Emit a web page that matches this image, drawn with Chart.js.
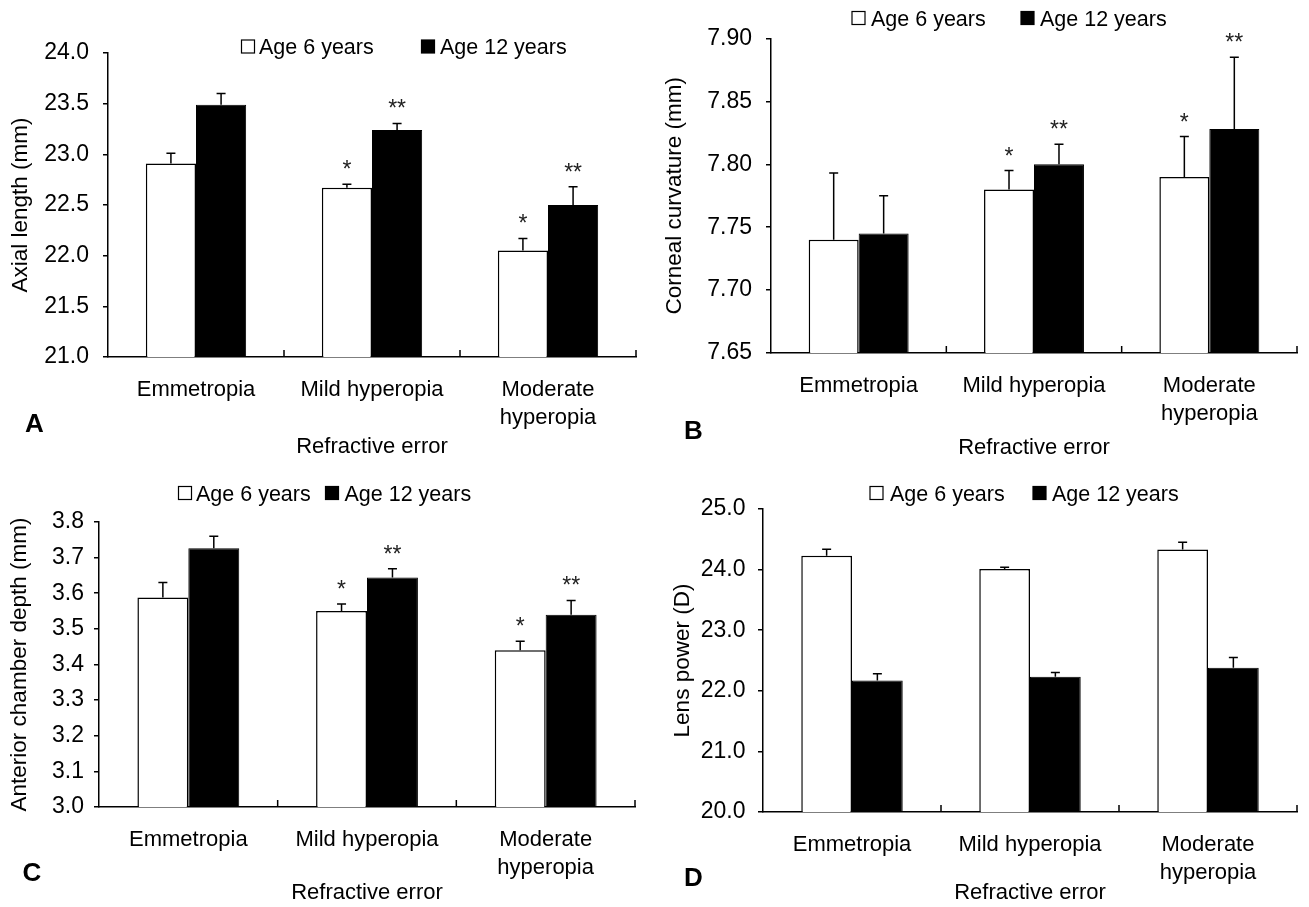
<!DOCTYPE html>
<html>
<head>
<meta charset="utf-8">
<script src="https://cdn.jsdelivr.net/npm/chart.js"></script>
<style>
body { margin: 0; background: #fff; width: 1309px; height: 907px; overflow: hidden; position: relative; }
canvas { position: absolute; }
</style>
</head>
<body>
<canvas id="cA" width="650" height="460" style="left:0px;top:0px"></canvas>
<canvas id="cB" width="659" height="460" style="left:650px;top:0px"></canvas>
<canvas id="cC" width="650" height="447" style="left:0px;top:460px"></canvas>
<canvas id="cD" width="659" height="447" style="left:650px;top:460px"></canvas>
<script>
var categories = ['Emmetropia', 'Mild hyperopia', ['Moderate', 'hyperopia']];
var seriesLabels = ['Age 6 years', 'Age 12 years'];

// A - axial length
var axialAge6 = [22.91, 22.67, 22.05];
var axialAge12 = [23.49, 23.24, 22.50];
var axialErr6 = [0.10, 0.035, 0.12];
var axialErr12 = [0.11, 0.065, 0.18];
var axialSig6 = ['', '*', '*'];
var axialSig12 = ['', '**', '**'];
var axialTicks = [21.0, 21.5, 22.0, 22.5, 23.0, 23.5, 24.0];

// B - corneal curvature
var cornealAge6 = [7.740, 7.780, 7.790];
var cornealAge12 = [7.745, 7.800, 7.828];
var cornealErr6 = [0.053, 0.015, 0.032];
var cornealErr12 = [0.030, 0.016, 0.057];
var cornealSig6 = ['', '*', '*'];
var cornealSig12 = ['', '**', '**'];
var cornealTicks = [7.65, 7.70, 7.75, 7.80, 7.85, 7.90];

// C - anterior chamber depth
var acdAge6 = [3.588, 3.550, 3.440];
var acdAge12 = [3.726, 3.644, 3.540];
var acdErr6 = [0.042, 0.020, 0.025];
var acdErr12 = [0.034, 0.025, 0.040];
var acdSig6 = ['', '*', '*'];
var acdSig12 = ['', '**', '**'];
var acdTicks = [3.0, 3.1, 3.2, 3.3, 3.4, 3.5, 3.6, 3.7, 3.8];

// D - lens power
var lensAge6 = [24.23, 24.01, 24.33];
var lensAge12 = [22.17, 22.23, 22.38];
var lensErr6 = [0.105, 0.027, 0.12];
var lensErr12 = [0.11, 0.07, 0.17];
var lensSig6 = ['', '', ''];
var lensSig12 = ['', '', ''];
var lensTicks = [20.0, 21.0, 22.0, 23.0, 24.0, 25.0];

var FONT = "'Liberation Sans', Arial, sans-serif";

var panels = [
	{ id: 'cA', ox: 0, oy: 0, w: 650, h: 460, area: [108, 53, 636, 357],
	  v6: axialAge6, v12: axialAge12, e6: axialErr6, e12: axialErr12, s6: axialSig6, s12: axialSig12,
	  ticks: axialTicks, dec: 1, yTitle: 'Axial length (mm)', titlePad: 7.5, tickPad: 14, xTitlePad: 2,
	  legend: [241.5, 259, 421.5, 440, 46.5], letter: ['A', 25, 423] },
	{ id: 'cB', ox: 650, oy: 0, w: 659, h: 460, area: [771, 38.5, 1297, 353],
	  v6: cornealAge6, v12: cornealAge12, e6: cornealErr6, e12: cornealErr12, s6: cornealSig6, s12: cornealSig12,
	  ticks: cornealTicks, dec: 2, yTitle: 'Corneal curvature (mm)', titlePad: 11.5, tickPad: 14, xTitlePad: 1,
	  legend: [852, 871, 1021, 1040, 18], letter: ['B', 684, 430] },
	{ id: 'cC', ox: 0, oy: 460, w: 650, h: 447, area: [99, 522, 635, 807],
	  v6: acdAge6, v12: acdAge12, e6: acdErr6, e12: acdErr12, s6: acdSig6, s12: acdSig12,
	  ticks: acdTicks, dec: 1, yTitle: 'Anterior chamber depth (mm)', titlePad: 6.5, tickPad: 10, xTitlePad: 3,
	  legend: [178.5, 196, 325.5, 344.5, 493], letter: ['C', 22.5, 872] },
	{ id: 'cD', ox: 650, oy: 460, w: 659, h: 447, area: [763, 509, 1297, 812],
	  v6: lensAge6, v12: lensAge12, e6: lensErr6, e12: lensErr12, s6: lensSig6, s12: lensSig12,
	  ticks: lensTicks, dec: 1, yTitle: 'Lens power (D)', titlePad: 19, tickPad: 12.5, xTitlePad: 3,
	  legend: [870, 890, 1033, 1052, 493], letter: ['D', 684, 877] }
];

function decor(p) {
	return {
		id: 'decor',
		afterDatasetsDraw: function(chart) {
			var ctx = chart.ctx, y = chart.scales.y, x = chart.scales.x, ca = chart.chartArea;
			ctx.save();
			ctx.strokeStyle = '#000';
			ctx.lineWidth = 1.5;
			// tick marks inside the x axis, between categories
			ctx.beginPath();
			for (var i = 0; i < categories.length; i++) {
				var bx = i < categories.length - 1 ? (x.getPixelForValue(i) + x.getPixelForValue(i + 1)) / 2 : ca.right;
				ctx.moveTo(bx, ca.bottom);
				ctx.lineTo(bx, ca.bottom - 7);
			}
			ctx.stroke();
			var errs = [p.e6, p.e12], sigs = [p.s6, p.s12];
			for (var d = 0; d < 2; d++) {
				var meta = chart.getDatasetMeta(d);
				var vals = chart.data.datasets[d].data;
				meta.data.forEach(function(bar, k) {
					var top = y.getPixelForValue(vals[k] + errs[d][k]);
					var base = y.getPixelForValue(vals[k]);
					ctx.beginPath();
					ctx.moveTo(bar.x, base);
					ctx.lineTo(bar.x, top);
					ctx.moveTo(bar.x - 4.5, top);
					ctx.lineTo(bar.x + 4.5, top);
					ctx.stroke();
					if (sigs[d][k]) {
						ctx.fillStyle = '#222';
						ctx.font = '23px ' + FONT;
						ctx.textAlign = 'center';
						ctx.textBaseline = 'alphabetic';
						ctx.fillText(sigs[d][k], bar.x, top - 7);
					}
				});
			}
			ctx.restore();
		},
		afterDraw: function(chart) {
			var ctx = chart.ctx, L = p.legend;
			ctx.save();
			ctx.font = '21.5px ' + FONT;
			ctx.textAlign = 'left';
			ctx.textBaseline = 'alphabetic';
			for (var d = 0; d < 2; d++) {
				var ds = chart.data.datasets[d];
				var sx = L[d * 2] - p.ox, tx = L[d * 2 + 1] - p.ox, yc = L[4] - p.oy;
				ctx.fillStyle = ds.backgroundColor;
				ctx.fillRect(sx, yc - 6.5, 13, 13);
				ctx.strokeStyle = '#000';
				ctx.lineWidth = 1.2;
				ctx.strokeRect(sx, yc - 6.5, 13, 13);
				ctx.fillStyle = '#000';
				ctx.fillText(ds.label, tx, yc + 7.7);
			}
			ctx.font = 'bold 26px ' + FONT;
			ctx.fillText(p.letter[0], p.letter[1] - p.ox, p.letter[2] - p.oy + 9.3);
			ctx.restore();
		}
	};
}

panels.forEach(function(p) {
	var ctx = document.getElementById(p.id);
	new Chart(ctx, {
		type: 'bar',
		data: {
			labels: categories,
			datasets: [
				{ label: seriesLabels[0], data: p.v6, backgroundColor: '#fff', borderColor: '#000', borderWidth: 1.5,
				  categoryPercentage: 0.57, barPercentage: 1 },
				{ label: seriesLabels[1], data: p.v12, backgroundColor: '#000', borderColor: '#000', borderWidth: 1,
				  categoryPercentage: 0.57, barPercentage: 1 }
			]
		},
		options: {
			responsive: false,
			animation: false,
			devicePixelRatio: 1,
			layout: { padding: { left: 0, top: p.area[1] - p.oy, right: p.ox + p.w - p.area[2], bottom: 0 } },
			plugins: { legend: { display: false }, tooltip: { enabled: false } },
			scales: {
				x: {
					afterFit: function(s) { s.height = p.oy + p.h - p.area[3]; },
					ticks: { color: '#000', padding: 19, maxRotation: 0, autoSkip: false,
					         font: { family: FONT, size: 22, lineHeight: 1.273 } },
					grid: { display: false, drawTicks: false },
					border: { display: true, color: '#000', width: 1.5 },
					title: { display: true, text: 'Refractive error', color: '#000',
					         font: { family: FONT, size: 22, lineHeight: 1 }, padding: { top: 0, bottom: p.xTitlePad } }
				},
				y: {
					min: p.ticks[0],
					max: p.ticks[p.ticks.length - 1],
					afterBuildTicks: function(s) { s.ticks = p.ticks.map(function(v) { return { value: v }; }); },
					afterFit: function(s) { s.width = p.area[0] - p.ox; },
					ticks: { color: '#000', padding: p.tickPad, font: { family: FONT, size: 23 },
					         callback: function(v) { return Number(v).toFixed(p.dec); } },
					grid: { drawOnChartArea: false, drawTicks: true, tickLength: 5, color: '#000', lineWidth: 1.5 },
					border: { display: true, color: '#000', width: 1.5 },
					title: { display: true, text: p.yTitle, color: '#000',
					         font: { family: FONT, size: 22.5 }, padding: { top: p.titlePad, bottom: 0 } }
				}
			}
		},
		plugins: [decor(p)]
	});
});
</script>
</body>
</html>
